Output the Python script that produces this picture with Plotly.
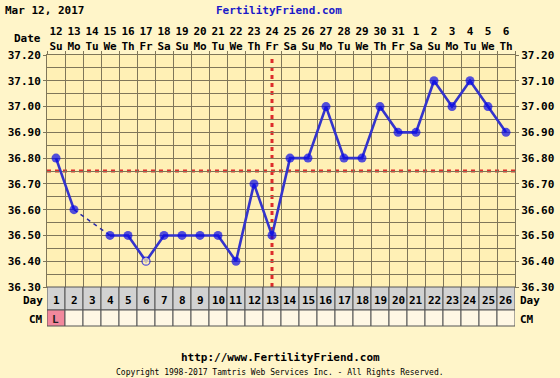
import plotly.graph_objects as go

# ---------------- data ----------------
cycle_days = [1, 2, 3, 4, 5, 6, 7, 8, 9, 10, 11, 12, 13, 14, 15, 16, 17, 18, 19, 20, 21, 22, 23, 24, 25, 26]
date_nums = [12, 13, 14, 15, 16, 17, 18, 19, 20, 21, 22, 23, 24, 25, 26, 27, 28, 29, 30, 31, 1, 2, 3, 4, 5, 6]
weekdays = ["Su", "Mo", "Tu", "We", "Th", "Fr", "Sa", "Su", "Mo", "Tu", "We", "Th", "Fr",
            "Sa", "Su", "Mo", "Tu", "We", "Th", "Fr", "Sa", "Su", "Mo", "Tu", "We", "Th"]
temps = [36.80, 36.60, None, 36.50, 36.50, 36.40, 36.50, 36.50, 36.50, 36.50, 36.40, 36.70, 36.50,
         36.80, 36.80, 37.00, 36.80, 36.80, 37.00, 36.90, 36.90, 37.10, 37.00, 37.10, 37.00, 36.90]
open_days = [6]
coverline = 36.75
ovulation_day = 13
cm_values = ["L"] + [""] * 25
y_ticks = [36.30, 36.40, 36.50, 36.60, 36.70, 36.80, 36.90, 37.00, 37.10, 37.20]
chart_date = "Mar 12, 2017"
site_name = "FertilityFriend.com"
site_url = "http://www.FertilityFriend.com"
copyright_text = "Copyright 1998-2017 Tamtris Web Services Inc. - All Rights Reserved."

# ---------------- style ----------------
OUTER = "#fff5c9"
INNER = "#fff0b5"
GRID = "#7f7659"
LINE_BLUE = "#3434cc"
DOT_BLUE = "#0808e8"
RED = "#dd2b2b"
DAY_ROW = "#d2d2d2"
CM_ROW = "#fff7e4"
CM_PINK = "#f2889c"
FONT = "DejaVu Sans Mono"

W, H = 560, 378
L, R, T, B = 47, 515, 55, 287


def px2x(px):
    return (px - L) / (R - L)


def py2y(py):
    return (B - py) / (B - T)


fig = go.Figure()

# dashed connectors across missing temperatures
valid = [i for i, t in enumerate(temps) if t is not None]
for a, b in zip(valid[:-1], valid[1:]):
    if b - a > 1:
        fig.add_trace(go.Scatter(
            x=[cycle_days[a], cycle_days[b]], y=[temps[a], temps[b]],
            mode="lines", line=dict(color="#2a2aa8", width=1.5, dash="4px,4px"),
            hoverinfo="skip"))

sizes = [8 if d in open_days else 9 for d in cycle_days]
fills = [INNER if d in open_days else DOT_BLUE for d in cycle_days]
lw = [1.3 if d in open_days else 0 for d in cycle_days]

fig.add_trace(go.Scatter(
    x=cycle_days, y=temps, mode="lines+markers", connectgaps=False,
    line=dict(color=LINE_BLUE, width=2.6),
    marker=dict(size=sizes, color=fills, line=dict(color=DOT_BLUE, width=lw)),
    hoverinfo="skip"))

# invisible trace for right-hand axis
fig.add_trace(go.Scatter(x=cycle_days, y=temps, yaxis="y2", mode="markers",
                         marker=dict(opacity=0), hoverinfo="skip"))

# coverline and ovulation line
fig.add_shape(type="line", xref="paper", yref="y", x0=0, x1=1, y0=coverline, y1=coverline,
              line=dict(color=RED, width=3, dash="4px,4px"), layer="between")
fig.add_shape(type="line", xref="x", yref="paper", x0=ovulation_day, x1=ovulation_day, y0=0, y1=1,
              line=dict(color=RED, width=3, dash="4px,4px"), layer="between")

bold11 = dict(family=FONT, size=11, color="black", weight="bold")


def label(x, xref, y, text, font=bold11, xanchor="center"):
    fig.add_annotation(x=x, xref=xref, y=y, yref="paper", text=text, xanchor=xanchor,
                       yanchor="middle", showarrow=False, font=font)


# table rows below chart
day_top, day_bot, cm_bot = py2y(287), py2y(310), py2y(326)
day_text_y, cm_text_y = py2y(300.5), py2y(319)
for d, cm in zip(cycle_days, cm_values):
    fig.add_shape(type="rect", xref="x", yref="paper", x0=d - 0.5, x1=d + 0.5, y0=day_bot, y1=day_top,
                  fillcolor=DAY_ROW, line=dict(color="#555555", width=1), layer="above")
    fig.add_shape(type="rect", xref="x", yref="paper", x0=d - 0.5, x1=d + 0.5, y0=cm_bot, y1=day_bot,
                  fillcolor=CM_PINK if cm else CM_ROW, line=dict(color="#555555", width=1), layer="above")
    label(d, "x", day_text_y, str(d))
    if cm:
        label(d - 0.35, "x", cm_text_y, cm,
              font=dict(family=FONT, size=11, color="#222222", weight="bold"), xanchor="left")

for txt, yc in [("Day", day_text_y), ("CM", cm_text_y)]:
    label(px2x(45), "paper", yc, txt, xanchor="right")
    label(px2x(518), "paper", yc, txt, xanchor="left")

label(px2x(43), "paper", py2y(38), "Date", xanchor="right")
label(px2x(3), "paper", py2y(10), chart_date, xanchor="left")
label(px2x(279), "paper", py2y(10), site_name, font=dict(family=FONT, size=11, color="#1a1ac8", weight="bold"))
label(px2x(280), "paper", py2y(358), site_url)
label(px2x(280), "paper", py2y(372), copyright_text, font=dict(family=FONT, size=8, color="black"))

fig.update_layout(
    width=W, height=H, margin=dict(l=L, r=W - R, t=T, b=H - B, autoexpand=False),
    paper_bgcolor=OUTER, plot_bgcolor=INNER, showlegend=False,
    xaxis=dict(range=[0.5, 26.5], side="top", tickmode="array", tickvals=cycle_days,
               ticktext=[f"{n}<br>{w}" for n, w in zip(date_nums, weekdays)],
               ticks="", showgrid=False, zeroline=False, automargin=False,
               showline=True, linecolor=GRID, mirror=True,
               minor=dict(tick0=0.5, dtick=1, showgrid=True, gridcolor=GRID, gridwidth=1,
                          ticks="outside", ticklen=3, tickcolor=GRID),
               tickfont=bold11, fixedrange=True),
    yaxis=dict(range=[36.30, 37.20], tickmode="array", tickvals=y_ticks, automargin=False,
               ticktext=[f"{v:.2f}" for v in y_ticks], showgrid=True, gridcolor=GRID, gridwidth=1,
               zeroline=False, showline=True, linecolor=GRID, mirror=True,
               ticks="outside", ticklen=3, tickcolor=GRID,
               minor=dict(tick0=36.30, dtick=0.05, showgrid=True, gridcolor=GRID, gridwidth=1),
               tickfont=bold11, fixedrange=True),
    yaxis2=dict(range=[36.30, 37.20], overlaying="y", side="right", tickmode="array", tickvals=y_ticks,
                ticktext=[f"{v:.2f}" for v in y_ticks], showgrid=False, zeroline=False, automargin=False,
                ticks="outside", ticklen=3, tickcolor=GRID, tickfont=bold11, fixedrange=True),
)

fig.write_html("out.html", config={"displayModeBar": False, "staticPlot": True},
               post_script="document.body.style.margin='0';document.body.style.overflow='hidden';")
